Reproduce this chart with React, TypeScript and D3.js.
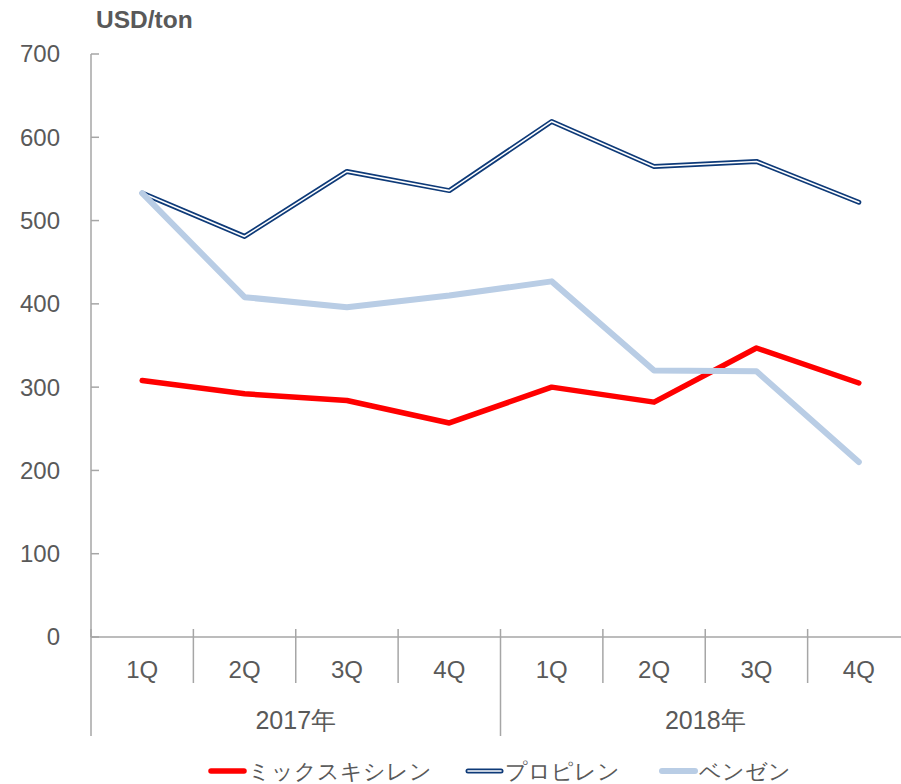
import React from 'react'
import * as d3 from 'd3'

const quarters = ['1Q', '2Q', '3Q', '4Q', '1Q', '2Q', '3Q', '4Q']
const years = ['2017年', '2018年']
const mixedXylene = [308, 292, 284, 257, 300, 282, 347, 305]
const propylene = [533, 481, 559, 536, 619, 565, 571, 522]
const benzene = [533, 408, 396, 410, 427, 320, 319, 210]
const yTicks = [0, 100, 200, 300, 400, 500, 600, 700]
const seriesNames = ['ミックスキシレン', 'プロピレン', 'ベンゼン']

const width = 901
const height = 784
const left = 91
const right = 910
const top = 54
const bottom = 637
const font = '"Liberation Sans", Arial, sans-serif'
const grey = '#595959'
const axisGrey = '#a6a6a6'

const App = () => {
  const idx = quarters.map((_, i) => i)

  // x scale
  const x = d3.scaleBand<number>().domain(idx).range([left, right])

  // y scale
  const y = d3.scaleLinear().domain([0, 700]).range([bottom, top])

  const line = d3
    .line<number>()
    .x((d, i) => x(i)! + x.bandwidth() / 2)
    .y((d) => y(d))

  const yearWidth = x.bandwidth() * 4

  return (
    <svg width={width} height={height} style={{ position: 'absolute', left: 0, top: 0 }}>
      <text x={96} y={28} fontFamily={font} fontSize={24.5} fontWeight="bold" fill={grey}>
        USD/ton
      </text>

      {/* y axis */}
      <line x1={left} x2={left} y1={y(700)} y2={bottom} stroke={axisGrey} strokeWidth={1.5} />
      {yTicks.map((t) => (
        <g key={t}>
          <line x1={left} x2={left + 8} y1={y(t)} y2={y(t)} stroke={axisGrey} strokeWidth={1.5} />
          <text x={60} y={y(t)} dy="0.35em" textAnchor="end" fontFamily={font} fontSize={24} fill={grey}>
            {t}
          </text>
        </g>
      ))}

      {/* x axis */}
      <line x1={left} x2={right} y1={bottom} y2={bottom} stroke={axisGrey} strokeWidth={1.5} />
      {idx.map((i) => (
        <g key={i}>
          <line
            x1={x(i)!}
            x2={x(i)!}
            y1={bottom - 8}
            y2={i % 4 === 0 ? 736 : 683}
            stroke={axisGrey}
            strokeWidth={1.5}
          />
          <text
            x={x(i)! + x.bandwidth() / 2}
            y={670}
            dy="0.35em"
            textAnchor="middle"
            fontFamily={font}
            fontSize={24}
            fill={grey}
          >
            {quarters[i]}
          </text>
        </g>
      ))}
      {years.map((yr, j) => (
        <text
          key={yr}
          x={left + yearWidth * (j + 0.5)}
          y={720}
          dy="0.35em"
          textAnchor="middle"
          fontFamily={font}
          fontSize={25}
          fill={grey}
        >
          {yr}
        </text>
      ))}

      {/* lines */}
      <path d={line(mixedXylene)!} fill="none" stroke="#ff0000" strokeWidth={5.5} strokeLinejoin="round" strokeLinecap="round" />
      <path d={line(propylene)!} fill="none" stroke="#0e3a78" strokeWidth={5} strokeLinejoin="round" strokeLinecap="round" />
      <path d={line(propylene)!} fill="none" stroke="#ffffff" strokeWidth={1.6} strokeLinejoin="round" strokeLinecap="round" />
      <path d={line(benzene)!} fill="none" stroke="#b9cde5" strokeWidth={6} strokeLinejoin="round" strokeLinecap="round" />

      {/* legend */}
      {seriesNames.map((name, i) => {
        const lx = [211, 468, 662][i]
        const ly = 771
        return (
          <g key={name}>
            {i === 0 && <line x1={lx} x2={lx + 33} y1={ly} y2={ly} stroke="#ff0000" strokeWidth={5.5} strokeLinecap="round" />}
            {i === 1 && (
              <>
                <line x1={lx} x2={lx + 33} y1={ly} y2={ly} stroke="#0e3a78" strokeWidth={5} strokeLinecap="round" />
                <line x1={lx} x2={lx + 33} y1={ly} y2={ly} stroke="#ffffff" strokeWidth={1.6} strokeLinecap="round" />
              </>
            )}
            {i === 2 && <line x1={lx} x2={lx + 33} y1={ly} y2={ly} stroke="#b9cde5" strokeWidth={6} strokeLinecap="round" />}
            <text x={lx + 37} y={ly} dy="0.35em" fontFamily={font} fontSize={21.5} fill={grey}>
              {name}
            </text>
          </g>
        )
      })}
    </svg>
  )
}

export default App
